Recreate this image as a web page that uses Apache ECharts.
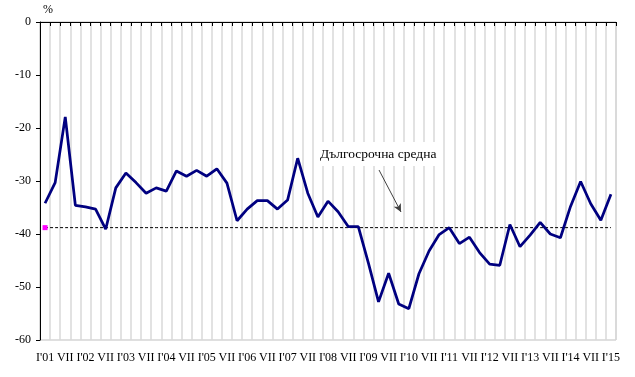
<!DOCTYPE html>
<html>
<head>
<meta charset="utf-8">
<script src="https://cdn.jsdelivr.net/npm/echarts@6/dist/echarts.min.js"></script>
<style>
html,body{margin:0;padding:0;background:#fff;}
#chart{width:635px;height:377px;}
</style>
</head>
<body>
<div id="chart"></div>
<script>
var myChart = echarts.init(document.getElementById('chart'));

// quarters I, IV, VII, X from 2001 to I'15
var years = ['01','02','03','04','05','06','07','08','09','10','11','12','13','14'];
var quarters = ['I', 'IV', 'VII', 'X'];
var categories = [];
for (var y = 0; y < years.length; y++) {
    for (var q = 0; q < quarters.length; q++) {
        categories.push(q === 0 ? "I'" + years[y] : quarters[q]);
    }
}
categories.push("I'15");

var confidence = [-34.2, -30.3, -17.9, -34.6, -34.9, -35.3, -39.1, -31.3, -28.5, -30.3,
    -32.3, -31.3, -31.9, -28.1, -29.1, -28.0, -29.1, -27.7, -30.4, -37.5,
    -35.3, -33.7, -33.7, -35.3, -33.6, -25.7, -32.3, -36.8, -33.8, -35.8,
    -38.6, -38.6, -45.5, -52.8, -47.4, -53.2, -54.1, -47.5, -43.2, -40.1,
    -38.8, -41.8, -40.6, -43.5, -45.7, -45.9, -38.2, -42.4, -40.2, -37.8,
    -40.0, -40.7, -34.8, -30.1, -34.3, -37.4, -32.5];

var longTermAvg = -38.8;
var avgData = categories.map(function (c, i) {
    return i === 0 ? { value: longTermAvg, symbol: 'rect', symbolSize: 5 } : { value: longTermAvg, symbol: 'none' };
});

var font = 'Liberation Serif';

option = {
    animation: false,
    grid: {
        left: 40,
        right: 19,
        top: 22,
        bottom: 37,
        show: true,
        borderColor: '#bfbfbf',
        borderWidth: 1
    },
    xAxis: [{
        type: 'category',
        position: 'bottom',
        data: categories,
        boundaryGap: true,
        axisLine: { show: false },
        axisTick: { show: false },
        axisLabel: {
            interval: 1,
            margin: 12,
            color: '#000',
            fontFamily: font,
            fontSize: 12
        },
        splitLine: {
            show: true,
            interval: 0,
            lineStyle: { color: '#d9d9d9', width: 1.5 }
        }
    }, {
        type: 'category',
        position: 'top',
        data: categories,
        boundaryGap: true,
        axisLine: { show: true, lineStyle: { color: '#000', width: 1 } },
        axisTick: { show: true, inside: true, interval: 0, length: 4, lineStyle: { color: '#000' } },
        axisLabel: { show: false },
        splitLine: { show: false }
    }],
    yAxis: {
        type: 'value',
        min: -60,
        max: 0,
        interval: 10,
        axisLine: { show: true, lineStyle: { color: '#000', width: 1 } },
        axisTick: { show: true, length: 4, lineStyle: { color: '#000' } },
        axisLabel: {
            color: '#000',
            fontFamily: font,
            fontSize: 12,
            margin: 9
        },
        splitLine: { show: false }
    },
    graphic: [{
        type: 'text',
        left: 43,
        top: 4,
        style: { text: '%', fill: '#000', font: '12px "Liberation Serif"' }
    }, {
        type: 'text',
        left: 316,
        top: 142,
        z: 100,
        style: {
            text: 'Дългосрочна средна',
            fill: '#000',
            font: '13.5px "Liberation Serif"',
            backgroundColor: '#fff',
            padding: [5, 4, 5, 4]
        }
    }],
    series: [{
        name: 'Дългосрочна средна',
        type: 'line',
        data: avgData,
        showSymbol: true,
        itemStyle: { color: '#ff00ff' },
        lineStyle: { color: '#000', width: 1, type: [3, 2] },
        z: 3,
        markLine: {
            silent: true,
            symbol: ['none', 'arrow'],
            symbolSize: [6, 8],
            label: { show: false },
            lineStyle: { color: '#404040', width: 1, type: 'solid' },
            data: [[{ x: 379, y: 170 }, { x: 401, y: 212 }]]
        }
    }, {
        name: 'confidence',
        type: 'line',
        data: confidence,
        symbol: 'none',
        lineStyle: { color: '#000080', width: 2.75 },
        z: 4
    }]
};

myChart.setOption(option);
</script>
</body>
</html>
